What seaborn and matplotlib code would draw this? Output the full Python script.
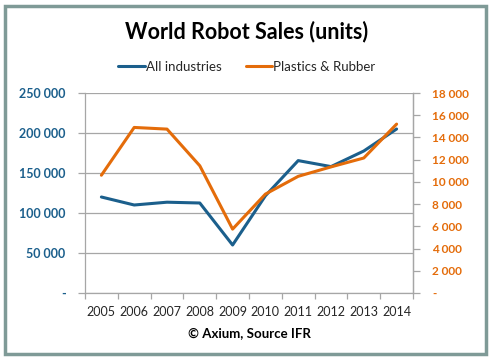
import matplotlib
matplotlib.use("Agg")
import matplotlib.pyplot as plt
import seaborn as sns
import pandas as pd
from matplotlib.ticker import FuncFormatter, MultipleLocator, FixedLocator
from matplotlib.patches import Rectangle

# data
years = ['2005', '2006', '2007', '2008', '2009', '2010', '2011', '2012', '2013', '2014']
all_industries = [120000, 110000, 113500, 112500, 60000, 121500, 165500, 158000, 177500, 205000]
plastics_rubber = [10600, 14900, 14750, 11450, 5750, 8900, 10500, 11350, 12150, 15200]

blue = '#1b5f8c'
orange = '#e46c0a'
grid_gray = '#a6a6a6'
text_gray = '#262626'

df = pd.DataFrame({'Year': years, 'All industries': all_industries,
                   'Plastics & Rubber': plastics_rubber})

sns.set_theme(style="white")
plt.rcParams['font.family'] = ['Lato', 'DejaVu Sans']


def space_thousands(v, pos):
    # excel accounting style: dash for zero, space as thousands separator
    if abs(v) < 1e-9:
        return '-'
    return f'{int(round(v)):,}'.replace(',', ' ')


fig = plt.figure(figsize=(4.9, 3.59), dpi=100)
ax = fig.add_axes([85 / 490, 1 - 293 / 359, 328 / 490, 200 / 359])

sns.lineplot(data=df, x='Year', y='All industries', ax=ax, color=blue, linewidth=2.2,
             label='All industries', legend=False)
ax.set_ylim(0, 250000)
ax.set_xlim(-0.5, 9.5)
ax.yaxis.set_major_locator(MultipleLocator(50000))
ax.yaxis.set_major_formatter(FuncFormatter(space_thousands))
ax.grid(axis='y', color=grid_gray, linewidth=0.9)
ax.set_xlabel('© Axium, Source IFR', fontsize=9.5, fontweight='bold', color='black', labelpad=7)
ax.set_ylabel('')

ax2 = ax.twinx()
sns.lineplot(data=df, x='Year', y='Plastics & Rubber', ax=ax2, color=orange, linewidth=2.2,
             label='Plastics & Rubber', legend=False)
ax2.set_ylim(0, 18000)
ax2.yaxis.set_major_locator(MultipleLocator(2000))
ax2.yaxis.set_major_formatter(FuncFormatter(space_thousands))
ax2.set_ylabel('')
ax2.set_xlim(-0.5, 9.5)

# category axis: ticks between categories, labels centred
ax.xaxis.set_major_locator(FixedLocator(range(len(years))))
ax.set_xticklabels(years)
ax.xaxis.set_minor_locator(FixedLocator([i - 0.5 for i in range(len(years) + 1)]))
ax.tick_params(axis='x', which='major', length=0, pad=9, labelsize=9, labelcolor=text_gray)
ax.tick_params(axis='x', which='minor', length=4, width=0.9, color=grid_gray, direction='out', bottom=True)
ax.tick_params(axis='y', length=5, width=0.9, color=grid_gray, direction='out', left=True, pad=9,
               labelsize=9, labelcolor=blue)
ax2.tick_params(axis='y', length=5, width=0.9, color=grid_gray, direction='out', right=True, pad=9,
                labelsize=8.5, labelcolor=orange)
for lab in ax.get_yticklabels():
    lab.set_fontweight('bold')
for lab in ax2.get_yticklabels():
    lab.set_fontweight('bold')

for a in (ax, ax2):
    a.spines['top'].set_visible(False)
    for s in ('left', 'right', 'bottom'):
        a.spines[s].set_color(grid_gray)
        a.spines[s].set_linewidth(0.9)
ax2.spines['left'].set_visible(False)
ax2.spines['bottom'].set_visible(False)

fig.text(247 / 490, 1 - 32 / 359, 'World Robot Sales (units)', ha='center', va='center',
         fontsize=15.5, fontweight='bold', color='black')

h1, l1 = ax.get_legend_handles_labels()
h2, l2 = ax2.get_legend_handles_labels()
fig.legend(h1 + h2, l1 + l2, loc='center', bbox_to_anchor=(247 / 490, 1 - 67 / 359), ncol=2,
           frameon=False, fontsize=9.5, handlelength=2.0, handletextpad=0.1, columnspacing=1.8,
           labelcolor=text_gray)

# outer chart border
fig.patches.append(Rectangle((5 / 490, 5 / 359), 481 / 490, 348 / 359, transform=fig.transFigure,
                             fill=False, edgecolor='#7f9a97', linewidth=2.5))

fig.savefig('out.png', dpi=100)
